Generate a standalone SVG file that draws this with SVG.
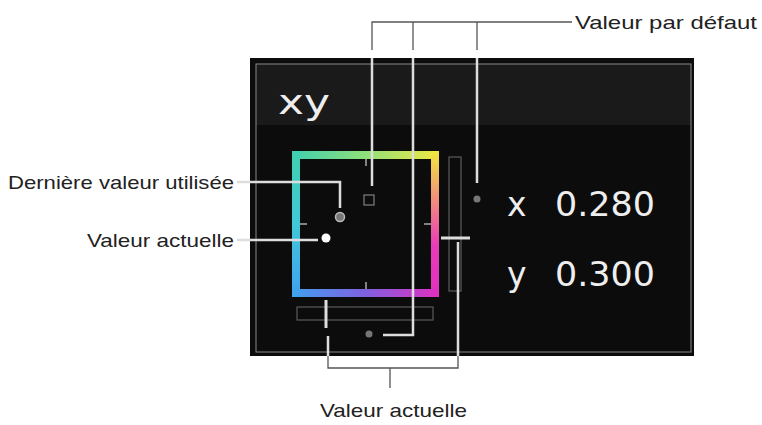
<svg xmlns="http://www.w3.org/2000/svg" width="762" height="425" viewBox="0 0 762 425">
<defs>
<linearGradient id="gt" x1="0" x2="1"><stop offset="0" stop-color="#3fd0b0"/><stop offset="0.5" stop-color="#8fe07a"/><stop offset="1" stop-color="#f0e840"/></linearGradient>
<linearGradient id="gr" x1="0" y1="0" x2="0" y2="1"><stop offset="0" stop-color="#f0e840"/><stop offset="0.35" stop-color="#f08a80"/><stop offset="0.65" stop-color="#e83cb8"/><stop offset="1" stop-color="#e030c0"/></linearGradient>
<linearGradient id="gb" x1="0" x2="1"><stop offset="0" stop-color="#40a0f0"/><stop offset="0.5" stop-color="#8060e0"/><stop offset="1" stop-color="#e030c0"/></linearGradient>
<linearGradient id="gl" x1="0" y1="0" x2="0" y2="1"><stop offset="0" stop-color="#3fd0b0"/><stop offset="0.5" stop-color="#40c8d8"/><stop offset="1" stop-color="#40a0f0"/></linearGradient>
</defs>
<style>
.lead{fill:none;stroke:#555;stroke-width:1.3}
.wl{fill:none;stroke:#ddd;stroke-width:2.5}
.lbl{font-family:"Liberation Sans",Arial,sans-serif;font-size:19px;fill:#222}
.big{font-family:"DejaVu Sans",sans-serif;font-size:33px;fill:#eee}
</style>
<rect width="762" height="425" fill="#fff"/>
<g id="panel">
<rect x="250" y="58" width="444" height="298" fill="#0c0c0c"/>
<rect x="256" y="64" width="435" height="61" fill="#1a1a1a"/>
<rect x="256" y="64" width="435" height="288" fill="none" stroke="#888" stroke-width="1"/>
<text x="278" y="114" class="big" textLength="52" lengthAdjust="spacingAndGlyphs">xy</text>
</g>
<g id="square">
<rect x="292" y="151" width="147" height="8" fill="url(#gt)"/>
<rect x="431" y="151" width="8" height="146" fill="url(#gr)"/>
<rect x="292" y="289" width="147" height="8" fill="url(#gb)"/>
<rect x="292" y="151" width="8" height="146" fill="url(#gl)"/>
<g stroke="#aaa" stroke-width="1.5"><line x1="366" y1="159" x2="366" y2="166"/><line x1="366" y1="282" x2="366" y2="289"/><line x1="300" y1="224" x2="307" y2="224"/><line x1="424" y1="224" x2="431" y2="224"/></g>
<rect x="364" y="195" width="10" height="10" fill="none" stroke="#777" stroke-width="1.3"/>
<circle cx="340" cy="217" r="4.5" fill="#777" stroke="#bbb" stroke-width="1.5"/>
<circle cx="326" cy="238" r="4.5" fill="#fff"/>
</g>
<g id="vslider">
<rect x="449" y="157" width="12" height="134" fill="none" stroke="#555" stroke-width="1.3"/>
<line x1="441" y1="238" x2="470" y2="238" stroke="#ddd" stroke-width="3"/>
<circle cx="477" cy="199" r="3.5" fill="#777"/>
</g>
<g id="hslider">
<rect x="297" y="307" width="136" height="13" fill="none" stroke="#555" stroke-width="1.3"/>
<line x1="326" y1="300" x2="326" y2="328" stroke="#ddd" stroke-width="3"/>
<circle cx="369" cy="334" r="3.5" fill="#777"/>
</g>
<g id="values">
<text x="507" y="216" class="big">x</text><text x="555" y="216" class="big" textLength="100" lengthAdjust="spacingAndGlyphs">0.280</text>
<text x="507" y="286" class="big">y</text><text x="555" y="286" class="big" textLength="100" lengthAdjust="spacingAndGlyphs">0.300</text>
</g>
<g id="connectors">
<path class="lead" d="M572 22H372V50"/><path class="lead" d="M413 22V50"/><path class="lead" d="M477 22V50"/>
<path class="wl" d="M372 58V186"/><path class="wl" d="M413 58V335H383"/><path class="wl" d="M477 58V183"/>
<path class="wl" d="M237 182H340V208"/><path class="wl" d="M237 240H318"/>
<path class="wl" d="M458 242V356"/><path class="wl" d="M328 336V356"/>
<path class="lead" d="M328 356V368H458V356M390 368V388"/>
</g>
<g id="labels">
<text x="575" y="29" class="lbl" textLength="182" lengthAdjust="spacingAndGlyphs">Valeur par défaut</text>
<text x="8" y="189" class="lbl" textLength="226" lengthAdjust="spacingAndGlyphs">Dernière valeur utilisée</text>
<text x="87" y="247" class="lbl" textLength="147" lengthAdjust="spacingAndGlyphs">Valeur actuelle</text>
<text x="320" y="417" class="lbl" textLength="147" lengthAdjust="spacingAndGlyphs">Valeur actuelle</text>
</g>
</svg>
